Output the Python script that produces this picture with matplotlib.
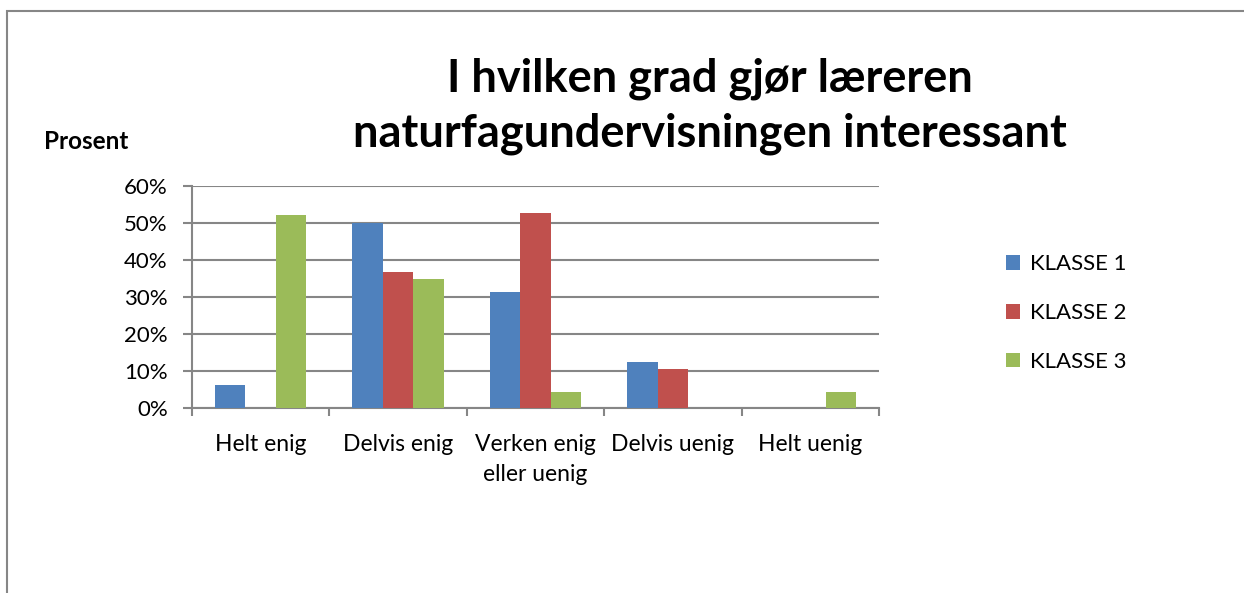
import matplotlib.pyplot as plt
import numpy as np
from matplotlib.patches import Rectangle
from matplotlib.ticker import PercentFormatter

plt.rcParams['font.family'] = ['Lato', 'DejaVu Sans']

categories = ['Helt enig', 'Delvis enig', 'Verken enig\neller uenig', 'Delvis uenig', 'Helt uenig']
klasse1 = [6.25, 50.0, 31.25, 12.5, 0.0]
klasse2 = [0.0, 36.8, 52.6, 10.5, 0.0]
klasse3 = [52.2, 34.8, 4.35, 0.0, 4.35]
series = ['KLASSE 1', 'KLASSE 2', 'KLASSE 3']
colors = ['#4F81BD', '#C0504D', '#9BBB59']

fig = plt.figure(figsize=(12.44, 5.93), dpi=100)
ax = fig.add_axes([0.1543, 0.312, 0.5523, 0.3744])

x = np.arange(len(categories))
w = 1 / 4.5
for i, (vals, name, c) in enumerate(zip([klasse1, klasse2, klasse3], series, colors)):
    ax.bar(x + (i - 1) * w, vals, w, color=c, label=name, zorder=3)

grid_c = '#868686'
ax.set_xlim(-0.5, len(categories) - 0.5)
ax.set_ylim(0, 60)
ax.set_yticks(np.arange(0, 61, 10))
ax.yaxis.set_major_formatter(PercentFormatter(decimals=0))
ax.yaxis.grid(True, color=grid_c, linewidth=1.5, zorder=0)
ax.set_xticks(x)
ax.set_xticklabels(categories, fontsize=16.5, linespacing=1.5)
ax.set_xticks(np.arange(-0.5, len(categories)), minor=True)
ax.tick_params(axis='x', which='major', length=0, pad=19)
ax.tick_params(axis='x', which='minor', length=6, color=grid_c, width=1.5, direction='out')
ax.tick_params(axis='y', length=6.5, color=grid_c, width=1.5, labelsize=16, pad=11)
for s in ['top', 'right']:
    ax.spines[s].set_visible(False)
for s in ['left', 'bottom']:
    ax.spines[s].set_color(grid_c)
    ax.spines[s].set_linewidth(1.5)

ax.legend(loc='center left', bbox_to_anchor=(1.155, 0.428), frameon=False, fontsize=16,
          handlelength=0.65, handleheight=0.65, handletextpad=0.45, labelspacing=1.3)

fig.text(0.571, 0.821, 'I hvilken grad gjør læreren\nnaturfagundervisningen interessant',
         ha='center', va='center', fontsize=32.5, fontweight='bold', linespacing=1.36)
fig.text(0.035, 0.762, 'Prosent', fontsize=17.5, fontweight='bold', va='center')

fig.patches.append(Rectangle((0.0056, -0.1), 1.2, 1.081, transform=fig.transFigure,
                             fill=False, edgecolor='#868686', linewidth=1.5))

fig.savefig('out.png', dpi=100)
